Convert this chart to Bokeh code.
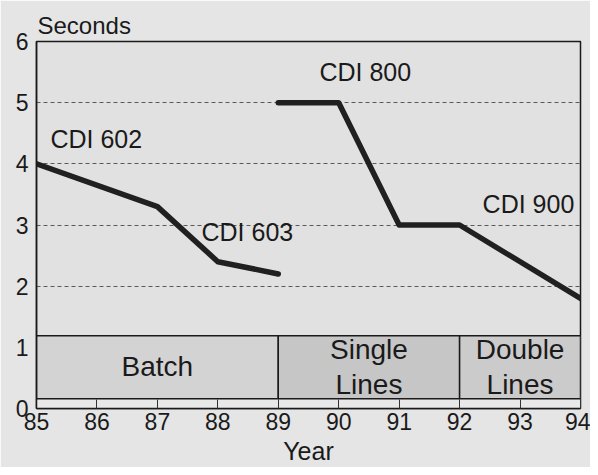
from bokeh.plotting import figure
from bokeh.models import Range1d, FixedTicker, ColumnDataSource
from bokeh.core.properties import value
from bokeh.embed import file_html
from bokeh.resources import INLINE

# ---- data ----
year_ticks = [85, 86, 87, 88, 89, 90, 91, 92, 93, 94]
second_ticks = [0, 1, 2, 3, 4, 5, 6]
grid_ticks = [2, 3, 4, 5]

cdi600_years = [85, 87, 88, 89]
cdi600_secs = [4.0, 3.3, 2.4, 2.2]
cdi800_years = [89, 90, 91, 92, 94]
cdi800_secs = [5.0, 5.0, 3.0, 3.0, 1.8]

model_names = ["CDI 602", "CDI  603", "CDI 800", "CDI 900"]
model_label_x = [85.23, 87.73, 89.68, 92.38]
model_label_y = [4.40, 2.89, 5.50, 3.34]

phase_names = ["Batch", "Single\nLines", "Double\nLines"]
phase_start = [85, 89, 92]
phase_end = [89, 92, 94]
phase_colors = ["#d3d3d3", "#c6c6c6", "#cbcbcb"]

FONT = value("Liberation Sans")
INK = "#1a1a1a"

p = figure(width=590, height=467, output_backend="svg", toolbar_location=None,
           x_range=Range1d(85, 94), y_range=Range1d(0, 6),
           min_border_left=36, min_border_right=10, min_border_top=41,
           min_border_bottom=58)

p.background_fill_color = "#e1e1e1"
p.border_fill_color = "#e5e5e5"
p.outline_line_color = INK
p.outline_line_width = 1.5

p.title.text = "Seconds"
p.title.text_font = "Liberation Sans"
p.title.text_font_size = "24px"
p.title.text_font_style = "normal"
p.title.text_color = INK
p.title.align = "left"
p.title.offset = 1
p.title.standoff = 6

# grid
p.xgrid.visible = False
p.ygrid.ticker = FixedTicker(ticks=grid_ticks)
p.ygrid.grid_line_color = "#5a5a5a"
p.ygrid.grid_line_dash = "4 3"
p.ygrid.grid_line_width = 1

# axes
for ax in (p.xaxis[0], p.yaxis[0]):
    ax.axis_line_color = INK
    ax.axis_line_width = 1.5
    ax.major_label_text_font = "Liberation Sans"
    ax.major_label_text_font_size = "23px"
    ax.major_label_text_color = INK
    ax.minor_tick_line_color = None

p.xaxis.ticker = FixedTicker(ticks=year_ticks)
p.xaxis.major_tick_in = 9
p.xaxis.major_tick_out = 0
p.xaxis.major_tick_line_color = "#333333"
p.xaxis.major_tick_line_width = 1
p.xaxis.major_label_standoff = 4
p.xaxis.axis_label = "Year"
p.xaxis.axis_label_text_font = "Liberation Sans"
p.xaxis.axis_label_text_font_size = "25px"
p.xaxis.axis_label_text_font_style = "normal"
p.xaxis.axis_label_text_color = INK
p.xaxis.axis_label_standoff = 4

p.yaxis.ticker = FixedTicker(ticks=second_ticks)
p.yaxis.major_tick_in = 0
p.yaxis.major_tick_out = 0
p.yaxis.major_label_standoff = 8

# bottom strip under the phase band
p.quad(left=[year_ticks[0]], right=[year_ticks[-1]], bottom=[0], top=[0.16],
       fill_color="#e9e9e9", line_color=None)

# phase band
phase_src = ColumnDataSource(dict(
    left=phase_start, right=phase_end, color=phase_colors, name=phase_names,
    cx=[(a + b) / 2 for a, b in zip(phase_start, phase_end)],
))
p.quad(left="left", right="right", bottom=0.16, top=1.19, source=phase_src,
       fill_color="color", line_color=INK, line_width=1.5)
p.text(x="cx", y=0.68, text="name", source=phase_src,
       text_font=FONT, text_font_size="28px", text_color=INK,
       text_align="center", text_baseline="middle", text_line_height=1.12)

# performance lines
p.line(cdi600_years, cdi600_secs, line_color="#202020", line_width=5.5,
       line_join="round", line_cap="round")
p.line(cdi800_years, cdi800_secs, line_color="#202020", line_width=5.5,
       line_join="round", line_cap="round")

p.text(x=model_label_x, y=model_label_y, text=model_names,
       text_font=FONT, text_font_size="25px", text_color=INK,
       text_align="left", text_baseline="middle")

open("out.html", "w").write(file_html(p, INLINE))
